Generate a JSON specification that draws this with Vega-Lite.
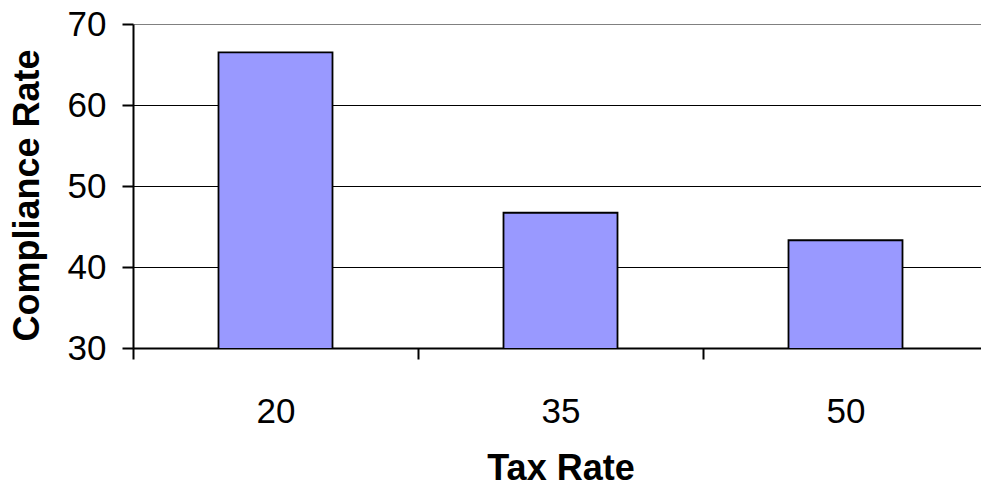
{
  "$schema": "https://vega.github.io/schema/vega-lite/v6.json",
  "width": 855,
  "height": 324,
  "autosize": {"type": "none"},
  "padding": {"left": 133, "top": 24, "right": 0, "bottom": 138},
  "background": "white",
  "config": {"view": {"stroke": null}, "font": "Liberation Sans"},
  "data": {"values": [
    {"tax": "20", "rate": 66.5},
    {"tax": "35", "rate": 46.7},
    {"tax": "50", "rate": 43.3}
  ]},
  "mark": {"type": "bar", "fill": "#9999FF", "stroke": "black", "strokeWidth": 1.8, "clip": true, "width": {"band": 0.4}},
  "encoding": {
    "x": {
      "field": "tax", "type": "ordinal", "sort": null,
      "scale": {"paddingInner": 0, "paddingOuter": 0},
      "axis": {
        "title": "Tax Rate", "labelAngle": 0, "tickBand": "extent",
        "tickSize": 11, "tickWidth": 2, "tickColor": "black",
        "domainColor": "black", "domainWidth": 2,
        "labelFont": "Liberation Sans", "labelFontSize": 35, "labelColor": "black", "labelPadding": 35,
        "titleFont": "Liberation Sans", "titleFontSize": 36, "titleFontWeight": "bold", "titleColor": "black", "titlePadding": 22,
        "grid": false
      }
    },
    "y": {
      "field": "rate", "type": "quantitative",
      "scale": {"domain": [30, 70], "nice": false, "zero": false},
      "axis": {
        "title": "Compliance Rate", "values": [30, 40, 50, 60, 70],
        "tickSize": 11, "tickWidth": 2, "tickColor": "black",
        "domainColor": "black", "domainWidth": 2,
        "labelFont": "Liberation Sans", "labelFontSize": 35, "labelColor": "black", "labelPadding": 16,
        "titleFont": "Liberation Sans", "titleFontSize": 36, "titleFontWeight": "bold", "titleColor": "black", "titlePadding": 21,
        "titleY": 171,
        "grid": true, "gridWidth": 1, "gridOpacity": 1,
        "gridColor": {"condition": {"test": "datum.value === 70", "value": "#808080"}, "value": "black"}
      }
    }
  }
}
